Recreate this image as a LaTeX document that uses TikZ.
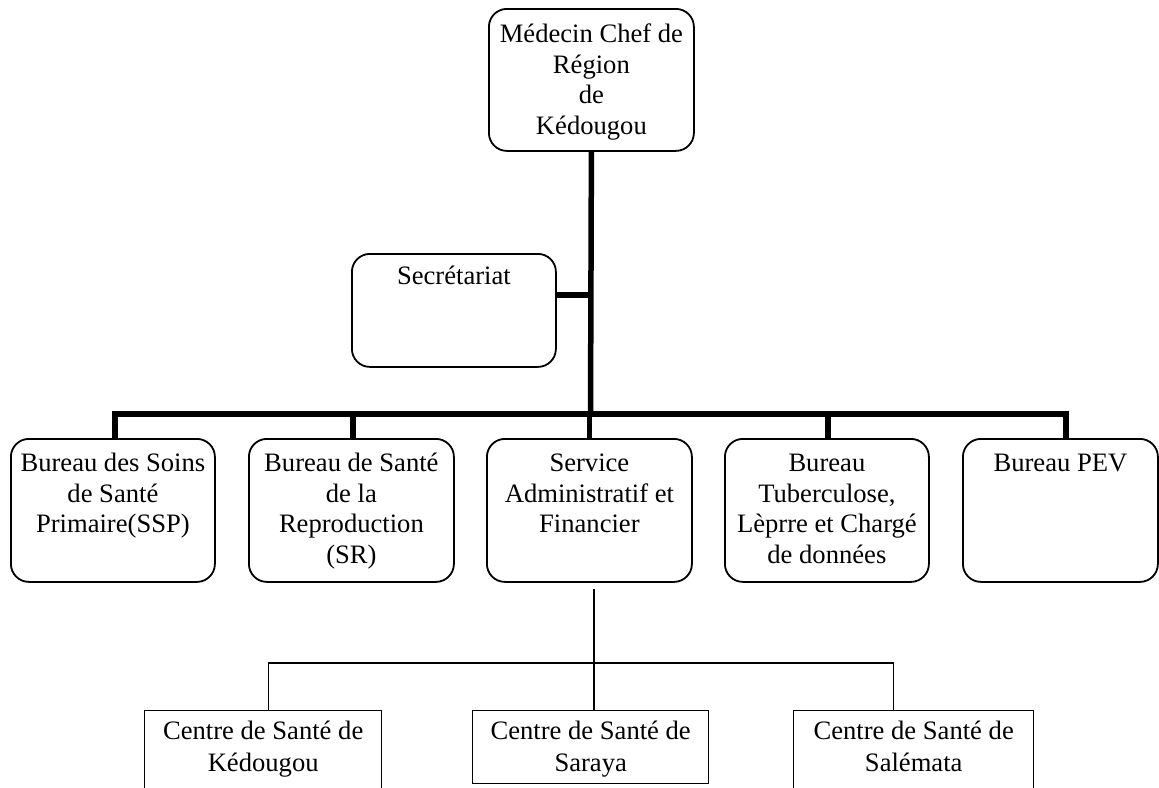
\documentclass[tikz,border=0pt]{standalone}
\usepackage{fontspec}
\setmainfont{Liberation Serif}
\newcommand\bx[4]{\parbox[c][#2pt][t]{#1pt}{\centering\rule{0pt}{#3pt}#4}}
\tikzset{
  rbox/.style={draw, line width=1.8pt, rounded corners=18pt, inner sep=0pt, anchor=north west,
    font=\fontsize{26.6}{30.5}\selectfont},
  sbox/.style={draw, line width=1.4pt, inner sep=0pt, anchor=north west,
    font=\fontsize{26.6}{32}\selectfont},
  thickln/.style={line width=5.5pt, line join=miter, line cap=butt},
  thinln/.style={line width=1.3pt}
}
\begin{document}
\begin{tikzpicture}[x=1pt,y=-1pt]
\useasboundingbox (0,0) rectangle (1159,787);
\clip (0,0) rectangle (1159,787);
\fill[white] (0,0) rectangle (1159,787);
% boxes
\node[rbox] (T) at (488,8) {\bx{205}{142}{34}{Médecin Chef de\\Région\\de\\Kédougou}};
\node[rbox] (S) at (351,253) {\bx{204}{113}{31}{Secrétariat}};
\node[rbox] (R1) at (10,438) {\bx{204}{143}{33}{Bureau des Soins\\de Santé\\Primaire(SSP)}};
\node[rbox] (R2) at (248,438) {\bx{205}{143}{33}{Bureau de Santé\\de la\\Reproduction\\(SR)}};
\node[rbox] (R3) at (486,438) {\bx{205}{143}{33}{Service\\Administratif et\\Financier}};
\node[rbox] (R4) at (724,438) {\bx{204}{143}{33}{Bureau\\Tuberculose,\\Lèprre et Chargé\\de données}};
\node[rbox] (R5) at (962,438) {\bx{195}{143}{33}{Bureau PEV}};
\node[sbox] (C1) at (144,710) {\bx{237}{95}{29}{Centre de Santé de\\Kédougou}};
\node[sbox] (C2) at (472,710) {\bx{236}{73}{29}{Centre de Santé de\\Saraya}};
\node[sbox] (C3) at (793,710) {\bx{240}{95}{29}{Centre de Santé de\\Salémata}};
% thick connectors
\coordinate (m) at (590.5,414);
\draw[thickln] (T.south) -- (m);
\coordinate (sc) at ([yshift=15.5pt]S.east);
\draw[thickln] (sc) -- (sc -| T.south);
\draw[thickln] ([xshift=2pt]R1.north) -- ([xshift=2pt]R1.north |- m) -- ([xshift=5.5pt]R5.north |- m) -- ([xshift=5.5pt]R5.north);
\draw[thickln] ([xshift=1.5pt]R2.north) -- ([xshift=1.5pt]R2.north |- m);
\draw[thickln] (R3.north) -- (R3.north |- m);
\draw[thickln] ([xshift=1pt]R4.north) -- ([xshift=1pt]R4.north |- m);
% thin connectors
\coordinate (a) at ([shift={(4.5pt,-6pt)}]R3.south);
\coordinate (lb) at (593,663);
\draw[thinln] (a) -- (a |- C2.north);
\draw[thinln] ([xshift=5.5pt]C1.north) |- (lb) -| ([xshift=-20pt]C3.north);
\end{tikzpicture}
\end{document}
